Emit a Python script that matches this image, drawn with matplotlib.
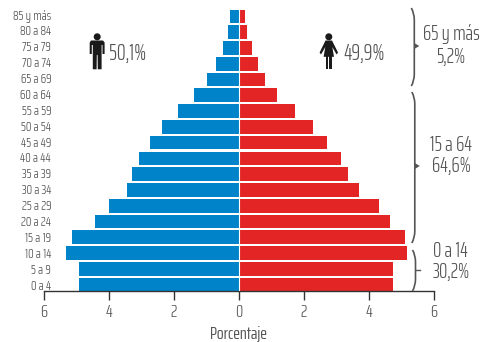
import matplotlib
matplotlib.use("Agg")
import matplotlib.pyplot as plt
from matplotlib.patches import Circle, Polygon, PathPatch, Rectangle
from matplotlib.path import Path

plt.rcParams['font.family'] = ['Saira ExtraCondensed', 'DejaVu Sans']
plt.rcParams['font.weight'] = 300

grupos = ["0 a 4", "5 a 9", "10 a 14", "15 a 19", "20 a 24", "25 a 29", "30 a 34", "35 a 39", "40 a 44",
          "45 a 49", "50 a 54", "55 a 59", "60 a 64", "65 a 69", "70 a 74", "75 a 79", "80 a 84", "85 y más"]
hombres = [4.90, 4.90, 5.32, 5.12, 4.41, 3.99, 3.43, 3.28, 3.08, 2.73, 2.37, 1.88, 1.38, 0.97, 0.69, 0.47, 0.33, 0.27]
mujeres = [4.76, 4.76, 5.18, 5.11, 4.66, 4.31, 3.70, 3.35, 3.14, 2.72, 2.30, 1.73, 1.17, 0.82, 0.60, 0.40, 0.26, 0.18]
xticks = [-6, -4, -2, 0, 2, 4, 6]
xlabels = ["6", "4", "2", "0", "2", "4", "6"]

W, H = 486, 342
GRIS = "#555555"
NEGRO = "#1a1a1a"
fig = plt.figure(figsize=(W / 100, H / 100), dpi=100)

# eje principal, colocado en pixeles
ax = fig.add_axes([43.7 / W, 1 - 291.3 / H, 390 / W, 281.3 / H])
pos = list(range(len(grupos)))
ax.barh(pos, [-v for v in hombres], height=0.87, color="#0083c9", zorder=2)
ax.barh(pos, mujeres, height=0.87, color="#e32526", zorder=2)
ax.axvline(0, color="white", lw=0.8, zorder=3)
ax.set_xlim(-6, 6)
ax.set_ylim(-0.43, 17.41)
for s in ["top", "left", "right"]:
    ax.spines[s].set_visible(False)
ax.spines["bottom"].set_color("#333333")
ax.spines["bottom"].set_linewidth(1)
ax.set_xticks(xticks)
ax.set_xticklabels(xlabels, fontsize=13, color=GRIS)
ax.tick_params(axis="x", length=6.5, width=1, color="#333333", pad=2.5)
# las etiquetas van un poco mas separadas que las barras
ax.set_yticks([p * 1.007 for p in pos])
ax.set_yticklabels(grupos, fontsize=10, color=GRIS)
ax.tick_params(axis="y", length=0, pad=-5.3)
ax.set_xlabel("Porcentaje", fontsize=13, color=GRIS, labelpad=4.5)

# capa de anotaciones en pixeles
ov = fig.add_axes([0, 0, 1, 1])
ov.set_xlim(0, W)
ov.set_ylim(H, 0)
ov.axis("off")
ov.patch.set_alpha(0)


def llave(x, y0, y1, ym, punta):
    verts = [(x - 3, y0), (x, y0 + 5), (x, y0 + 12), (x, y1 - 12), (x, y1 - 5), (x - 3, y1)]
    codes = [Path.MOVETO, Path.CURVE3, Path.CURVE3, Path.LINETO, Path.CURVE3, Path.CURVE3]
    ov.add_patch(PathPatch(Path(verts, codes), fill=False, ec=GRIS, lw=1.2))
    if punta:
        ov.add_patch(Polygon([(x, ym - 3), (x + 5, ym), (x, ym + 3)], color=GRIS, lw=0))
    else:
        ov.plot([x, x + 4], [ym, ym], color=GRIS, lw=1)


llave(414.3, 8, 86, 46, True)
llave(414.8, 92, 243, 166, True)
llave(415.5, 250, 291, 270, False)

for x, y, t in [(451, 34, "65 y más"), (451, 57, "5,2%"), (451, 145, "15 a 64"), (451, 166, "64,6%"),
                (450, 251, "0 a 14"), (451, 272, "30,2%")]:
    ov.text(x, y, t, ha="center", va="center", fontsize=15, color=GRIS)
ov.text(109, 53, "50,1%", ha="left", va="center", fontsize=16, color=GRIS)
ov.text(343, 53, "49,9%", ha="left", va="center", fontsize=16, color=GRIS)

# hombre
ov.add_patch(Circle((97.2, 36.8), 2.8, color=NEGRO))
ov.add_patch(Polygon([(91, 40.5), (103, 40.5), (104.6, 42.5), (104.6, 54), (102.5, 54), (102.5, 45), (101.6, 45),
                      (101.6, 69.3), (97.8, 69.3), (97.6, 55), (96.8, 55), (96.6, 69.3), (92.8, 69.3),
                      (92.8, 45), (91.8, 45), (91.8, 54), (89.7, 54), (89.7, 42.5)], color=NEGRO, lw=0))
# mujer
ov.add_patch(Circle((328.8, 36.8), 2.8, color=NEGRO))
ov.add_patch(Polygon([(325.5, 40.5), (332, 40.5), (338, 52.5), (336.6, 54.5), (332.3, 47), (334, 56.8), (323.6, 56.8),
                      (325.3, 47), (321, 54.5), (319.6, 52.5)], color=NEGRO, lw=0))
ov.add_patch(Rectangle((325.6, 56), 2.6, 13.2, color=NEGRO, lw=0))
ov.add_patch(Rectangle((329.4, 56), 2.6, 13.2, color=NEGRO, lw=0))

fig.savefig("out.png", dpi=100)
